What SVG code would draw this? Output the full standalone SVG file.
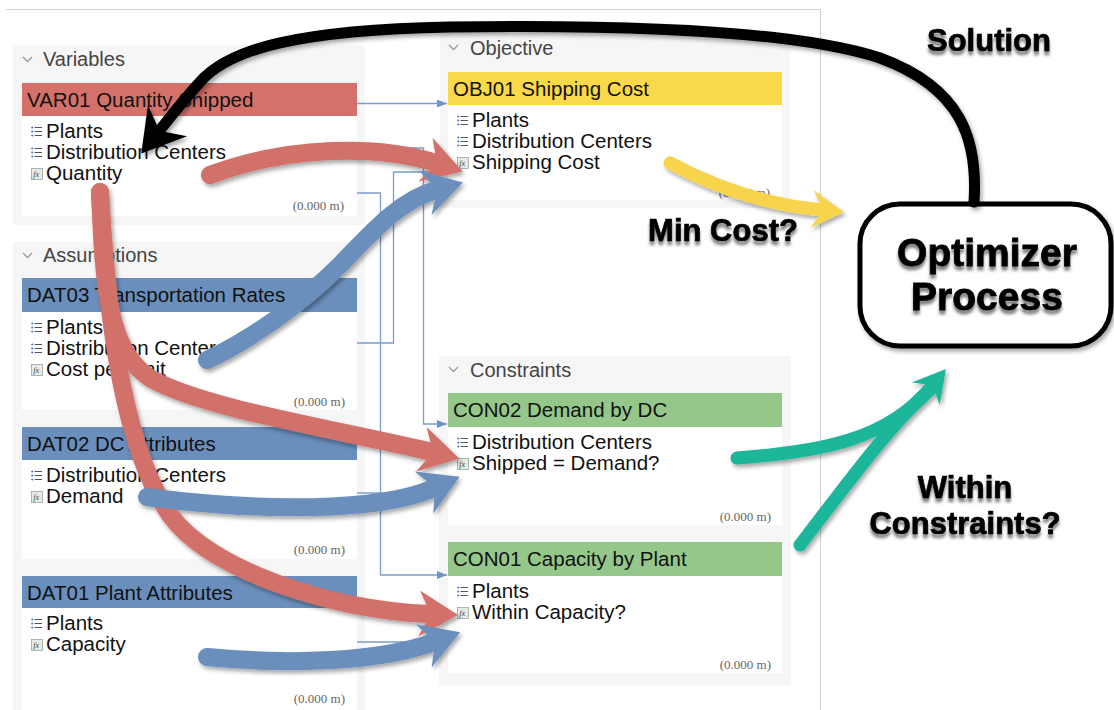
<svg xmlns="http://www.w3.org/2000/svg" xmlns:xlink="http://www.w3.org/1999/xlink" width="1114" height="710" viewBox="0 0 1114 710">
<style>
text{font-family:"Liberation Sans",Arial,sans-serif;}
.ph{font-size:20px;fill:#444;}
.hd{font-size:20.5px;fill:#111;}
.it{font-size:20.5px;fill:#111;}
.ms{font-family:"Liberation Serif","Times New Roman",serif;font-size:13px;fill:#666;text-anchor:end;}
.panel{fill:#f6f6f6;}
.body{fill:#ffffff;}
.chev{fill:none;stroke:#999;stroke-width:1.3;}
.thin{fill:none;stroke:#7b9ccc;stroke-width:1.3;}
.big{fill:none;stroke-linecap:round;}
.lbl{font-size:31px;font-weight:bold;fill:#000;stroke:#000;stroke-width:0.7;text-anchor:middle;}
.opt{font-size:39px;font-weight:bold;fill:#000;stroke:#000;stroke-width:0.8;text-anchor:middle;}
</style>
<defs>
<filter id="sh" x="-30%" y="-30%" width="160%" height="160%"><feDropShadow dx="2" dy="3" stdDeviation="2" flood-color="#000" flood-opacity="0.35"/></filter>
<filter id="tsh" x="-20%" y="-30%" width="140%" height="180%"><feDropShadow dx="0" dy="4" stdDeviation="1.8" flood-color="#000" flood-opacity="0.5"/></filter>
<marker id="ta" markerUnits="userSpaceOnUse" viewBox="0 0 10 8" refX="10" refY="4" markerWidth="10" markerHeight="8" orient="auto"><path d="M0,0 L10,4 L0,8 Z" fill="#6f93c8"/></marker>
<marker id="mr" markerUnits="userSpaceOnUse" viewBox="-10 -30 60 60" refX="8" refY="0" markerWidth="60" markerHeight="60" orient="auto"><path d="M-3,-23 L36,0 L-3,23 L9,0 Z" fill="#d2706a"/></marker>
<marker id="mb" markerUnits="userSpaceOnUse" viewBox="-10 -30 60 60" refX="8" refY="0" markerWidth="60" markerHeight="60" orient="auto"><path d="M-3,-23 L36,0 L-3,23 L9,0 Z" fill="#6a8fbd"/></marker>
<marker id="my" markerUnits="userSpaceOnUse" viewBox="-10 -30 60 60" refX="8" refY="0" markerWidth="60" markerHeight="60" orient="auto"><path d="M-2,-19 L30,0 L-2,19 L9,0 Z" fill="#f7d44c"/></marker>
<marker id="mt" markerUnits="userSpaceOnUse" viewBox="-10 -30 60 60" refX="8" refY="0" markerWidth="60" markerHeight="60" orient="auto"><path d="M-2,-18 L30,0 L-2,18 L9,0 Z" fill="#1bb79a"/></marker>
<marker id="mk" markerUnits="userSpaceOnUse" viewBox="-10 -30 60 60" refX="8" refY="0" markerWidth="60" markerHeight="60" orient="auto"><path d="M-4,-25 L38,0 L-4,25 L9,0 Z" fill="#000"/></marker>
<g id="li"><circle cx="1.2" cy="1.5" r="1" fill="#4a72c8"/><circle cx="1.2" cy="5.5" r="1" fill="#4a72c8"/><circle cx="1.2" cy="9.5" r="1" fill="#4a72c8"/><path d="M3.5,1.5H11M3.5,5.5H11M3.5,9.5H11" stroke="#555" stroke-width="1.1"/></g>
<g id="fx"><rect x="0.5" y="0.5" width="11" height="11" fill="#e6ebe6" stroke="#9aa5a0" stroke-width="0.8"/><text x="2.2" y="9" style="font-family:'Liberation Serif',serif;font-style:italic;font-size:8px;fill:#444;">fx</text></g>
</defs>
<rect width="1114" height="710" fill="#fff"/>
<path d="M6,9.5H820.5V710" fill="none" stroke="#d0d0d0" stroke-width="1"/>

<!-- panels -->
<g id="panel-variables">
<rect class="panel" x="13" y="45" width="352" height="180"/>
<polyline class="chev" points="23,57 27.5,61.5 32,57"/>
<text class="ph" x="43" y="66">Variables</text>
</g>
<g id="panel-assumptions">
<rect class="panel" x="13" y="242" width="352" height="468"/>
<polyline class="chev" points="23,253 27.5,257.5 32,253"/>
<text class="ph" x="43" y="262">Assumptions</text>
</g>
<g id="panel-objective">
<rect class="panel" x="440" y="33" width="350" height="175"/>
<polyline class="chev" points="449,45 453.5,49.5 458,45"/>
<text class="ph" x="470" y="55">Objective</text>
</g>
<g id="panel-constraints">
<rect class="panel" x="439" y="356" width="352" height="329"/>
<polyline class="chev" points="449,367 453.5,371.5 458,367"/>
<text class="ph" x="470" y="377">Constraints</text>
</g>

<!-- nodes -->
<g id="VAR01">
<rect class="body" x="22" y="83" width="335" height="133"/>
<rect x="22" y="83" width="335" height="33" fill="#d4716b"/>
<text class="hd" x="27" y="107">VAR01 Quantity Shipped</text>
<use xlink:href="#li" x="31" y="126"/><text class="it" x="46" y="138">Plants</text>
<use xlink:href="#li" x="31" y="147"/><text class="it" x="46" y="159">Distribution Centers</text>
<use xlink:href="#fx" x="31" y="168"/><text class="it" x="46" y="180">Quantity</text>
<text class="ms" x="344" y="210">(0.000 m)</text>
</g>
<g id="DAT03">
<rect class="body" x="22" y="278" width="335" height="132"/>
<rect x="22" y="278" width="335" height="34" fill="#6a8fbd"/>
<text class="hd" x="27" y="302">DAT03 Transportation Rates</text>
<use xlink:href="#li" x="31" y="322"/><text class="it" x="46" y="334">Plants</text>
<use xlink:href="#li" x="31" y="343"/><text class="it" x="46" y="355">Distribution Centers</text>
<use xlink:href="#fx" x="31" y="364"/><text class="it" x="46" y="376">Cost per Unit</text>
<text class="ms" x="345" y="406">(0.000 m)</text>
</g>
<g id="DAT02">
<rect class="body" x="22" y="427" width="335" height="132"/>
<rect x="22" y="427" width="335" height="33" fill="#6a8fbd"/>
<text class="hd" x="27" y="451">DAT02 DC Attributes</text>
<use xlink:href="#li" x="31" y="470"/><text class="it" x="46" y="482">Distribution Centers</text>
<use xlink:href="#fx" x="31" y="491"/><text class="it" x="46" y="503">Demand</text>
<text class="ms" x="345" y="554">(0.000 m)</text>
</g>
<g id="DAT01">
<rect class="body" x="22" y="576" width="335" height="134"/>
<rect x="22" y="576" width="335" height="32" fill="#6a8fbd"/>
<text class="hd" x="27" y="600">DAT01 Plant Attributes</text>
<use xlink:href="#li" x="31" y="618"/><text class="it" x="46" y="630">Plants</text>
<use xlink:href="#fx" x="31" y="639"/><text class="it" x="46" y="651">Capacity</text>
<text class="ms" x="345" y="703">(0.000 m)</text>
</g>
<g id="OBJ01">
<rect class="body" x="448" y="72" width="334" height="128"/>
<rect x="448" y="72" width="334" height="33" fill="#f9d84a"/>
<text class="hd" x="453" y="96">OBJ01 Shipping Cost</text>
<use xlink:href="#li" x="457" y="115"/><text class="it" x="472" y="127">Plants</text>
<use xlink:href="#li" x="457" y="136"/><text class="it" x="472" y="148">Distribution Centers</text>
<use xlink:href="#fx" x="457" y="157"/><text class="it" x="472" y="169">Shipping Cost</text>
<text class="ms" x="770" y="197">(0.000 m)</text>
</g>
<g id="CON02">
<rect class="body" x="448" y="393" width="334" height="132"/>
<rect x="448" y="393" width="334" height="34" fill="#95c78b"/>
<text class="hd" x="453" y="417">CON02 Demand by DC</text>
<use xlink:href="#li" x="457" y="437"/><text class="it" x="472" y="449">Distribution Centers</text>
<use xlink:href="#fx" x="457" y="458"/><text class="it" x="472" y="470">Shipped = Demand?</text>
<text class="ms" x="771" y="521">(0.000 m)</text>
</g>
<g id="CON01">
<rect class="body" x="448" y="542" width="334" height="131"/>
<rect x="448" y="542" width="334" height="34" fill="#95c78b"/>
<text class="hd" x="453" y="566">CON01 Capacity by Plant</text>
<use xlink:href="#li" x="457" y="586"/><text class="it" x="472" y="598">Plants</text>
<use xlink:href="#fx" x="457" y="607"/><text class="it" x="472" y="619">Within Capacity?</text>
<text class="ms" x="771" y="669">(0.000 m)</text>
</g>
<g id="optimizer">
<rect x="860" y="204" width="251" height="142" rx="40" fill="#fff" stroke="#000" stroke-width="5" filter="url(#sh)"/>
<g filter="url(#tsh)">
<text class="opt" x="987" y="266">Optimizer</text>
<text class="opt" x="987" y="310">Process</text>
</g>
</g>

<!-- connectors -->
<g id="connectors">
<g id="thin-links">
<path class="thin" d="M357,103.5H447" marker-end="url(#ta)"/>
<path class="thin" d="M357,148H423.5V424H447" marker-end="url(#ta)"/>
<path class="thin" d="M357,343H393.5V172H447" marker-end="url(#ta)"/>
<path class="thin" d="M357,193H380.5V575H447" marker-end="url(#ta)"/>
<path class="thin" d="M357,493H447" marker-end="url(#ta)"/>
<path class="thin" d="M357,642H447" marker-end="url(#ta)"/>
</g>
<g id="big-arrows" filter="url(#sh)">
<path class="big" stroke="#d2706a" stroke-width="18" d="M100,192 C104,290 108,350 150,378 C200,408 340,430 432,452" marker-end="url(#mr)"/>
<path class="big" stroke="#d2706a" stroke-width="18" d="M100,192 C108,330 125,450 170,515 C210,570 330,610 430,614" marker-end="url(#mr)"/>
<path class="big" stroke="#d2706a" stroke-width="18" d="M210,175 C290,145 380,145 436,163" marker-end="url(#mr)"/>
<path class="big" stroke="#6a8fbd" stroke-width="18" d="M207,360 C250,340 300,305 340,265 C372,232 400,200 436,190" marker-end="url(#mb)"/>
<path class="big" stroke="#6a8fbd" stroke-width="18" d="M147,497 C260,512 380,512 434,488" marker-end="url(#mb)"/>
<path class="big" stroke="#6a8fbd" stroke-width="18" d="M207,657 C290,665 380,662 434,642" marker-end="url(#mb)"/>
<path class="big" stroke="#f7d44c" stroke-width="13" d="M670,163 C720,190 770,205 822,210" marker-end="url(#my)"/>
<path class="big" stroke="#1bb79a" stroke-width="13" d="M800,545 C850,480 892,422 932,388"/>
<path class="big" stroke="#1bb79a" stroke-width="13" d="M737,458 C820,452 888,440 932,386" marker-end="url(#mt)"/>
<path class="big" stroke="#000" stroke-width="11" d="M974,202 C978,140 962,88 880,58 C800,32 650,24 450,27 C300,30 230,48 200,82 C180,104 168,120 160,130" marker-end="url(#mk)"/>
</g>
</g>

<g id="labels" filter="url(#tsh)">
<text class="lbl" x="989" y="51">Solution</text>
<text class="lbl" x="723" y="241">Min Cost?</text>
<text class="lbl" x="965" y="498">Within</text>
<text class="lbl" x="965" y="534">Constraints?</text>
</g>
</svg>
